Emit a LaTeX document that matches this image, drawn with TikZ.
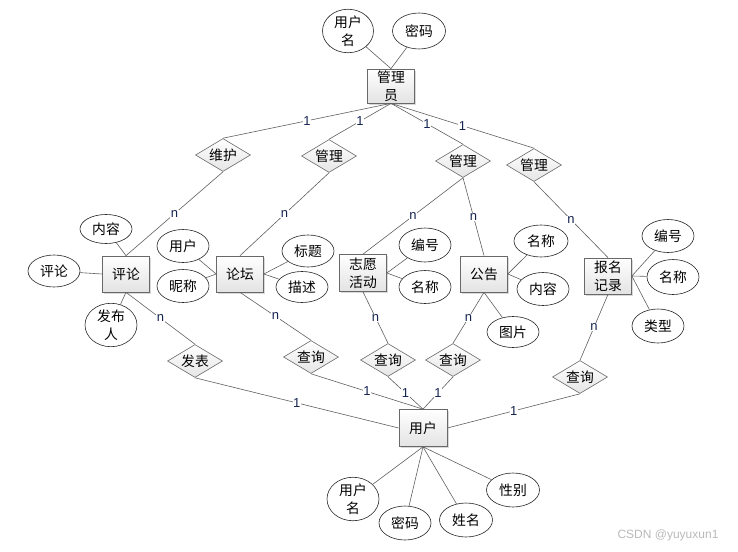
\documentclass[tikz,border=0pt]{standalone}
\usepackage{fontspec}
\setmainfont{Noto Sans CJK SC}
\newfontfamily\lblfont{Liberation Sans}
\usetikzlibrary{shapes.geometric,shadows}
\definecolor{lnc}{RGB}{95,95,95}
\definecolor{lblc}{RGB}{20,35,80}
\definecolor{bdr}{RGB}{105,105,105}
\begin{document}
\begin{tikzpicture}[x=1pt,y=-1pt,font=\fontsize{13.8}{18}\selectfont,
  ent/.style={rectangle,draw=bdr,line width=0.7pt,minimum width=47pt,minimum height=36pt,inner sep=0pt,align=center,
    top color=white,bottom color=gray!22,
    drop shadow={shadow xshift=1.6pt,shadow yshift=-1.6pt,opacity=0.3,fill=gray}},
  rel/.style={diamond,draw=bdr,line width=0.6pt,aspect=1.65,minimum width=55pt,minimum height=33pt,inner sep=0pt,
    top color=white,bottom color=gray!20},
  att/.style={ellipse,draw=black!85,line width=0.6pt,fill=white,minimum width=52pt,minimum height=33pt,inner sep=0pt,align=center},
  lbl/.style={font=\lblfont\fontsize{13}{13}\selectfont,text=lblc,fill=white,inner sep=0.5pt},
  ln/.style={draw=lnc,line width=0.6pt}]
\useasboundingbox (0,0) rectangle (738,551);

% entities
\node[ent,minimum height=34pt] (mgr) at (391,86) {管理\\员};
\node[ent] (e1) at (126,274) {评论};
\node[ent] (e2) at (240,274) {论坛};
\node[ent,minimum height=37pt] (e3) at (363,273) {志愿\\活动};
\node[ent] (e4) at (484,274) {公告};
\node[ent] (e5) at (608,276) {报名\\记录};
\node[ent,minimum width=48pt,minimum height=37pt] (user) at (423,428) {用户};

% relationships
\node[rel] (r1) at (223,155) {维护};
\node[rel] (r2) at (329,156) {管理};
\node[rel] (r3) at (463,161) {管理};
\node[rel] (r4) at (534,165) {管理};
\node[rel] (q1) at (195,361) {发表};
\node[rel] (q2) at (311,357) {查询};
\node[rel] (q3) at (388,360) {查询};
\node[rel] (q4) at (453,360) {查询};
\node[rel] (q5) at (580,377) {查询};

% attributes
\node[att,minimum width=51pt,minimum height=36pt] (mu) at (348,31) {用户\\名};
\node[att,minimum width=53pt,minimum height=36pt] (mp) at (419,31) {密码};
\node[att,minimum height=29pt] (a11) at (106,229) {内容};
\node[att,minimum height=32pt] (a12) at (54,271) {评论};
\node[att,minimum height=35pt] (a13) at (111,325) {发布\\人};
\node[att] (a21) at (183,246) {用户};
\node[att] (a22) at (183,286) {昵称};
\node[att,minimum height=32pt] (a23) at (308,251) {标题};
\node[att,minimum height=31pt] (a24) at (302,287) {描述};
\node[att,minimum height=34pt] (a31) at (425,245) {编号};
\node[att] (a32) at (425,287) {名称};
\node[att,minimum width=54pt,minimum height=32pt] (a41) at (541,241) {名称};
\node[att] (a42) at (543,289) {内容};
\node[att,minimum height=31pt] (a43) at (513,332) {图片};
\node[att,minimum height=33pt] (a51) at (668,236) {编号};
\node[att,minimum height=35pt] (a52) at (673,277) {名称};
\node[att,minimum height=34pt] (a53) at (658,326) {类型};
\node[att,minimum height=35pt] (u1) at (353,499) {用户\\名};
\node[att,minimum height=34pt] (u2) at (405,523) {密码};
\node[att,minimum width=53pt,minimum height=34pt] (u3) at (466,520) {姓名};
\node[att,minimum width=53pt,minimum height=34pt] (u4) at (513,490) {性别};

% attribute lines
\draw[ln] (mu) -- (mgr.north);
\draw[ln] (mp) -- (mgr.north);
\draw[ln] (a11) -- (e1.north);
\draw[ln] (a12) -- (e1.west);
\draw[ln] (a13) -- (e1.south);
\draw[ln] (a21) -- (e2.west);
\draw[ln] (a22) -- (e2.west);
\draw[ln] (a23) -- (e2.east);
\draw[ln] (a24) -- (e2.east);
\draw[ln] (a31) -- (e3.east);
\draw[ln] (a32) -- (e3.east);
\draw[ln] (a41) -- (e4.east);
\draw[ln] (a42) -- (e4.east);
\draw[ln] (a43) -- (e4.south);
\draw[ln] (a51) -- (e5.east);
\draw[ln] (a52) -- (e5.east);
\draw[ln] (a53) -- (e5.east);
\draw[ln] (u1) -- (user.south);
\draw[ln] (u2) -- (user.south);
\draw[ln] (u3) -- (user.south);
\draw[ln] (u4) -- (user.south);

% relationship lines
\draw[ln] (mgr.south) -- node[lbl] {1} (r1.north);
\draw[ln] (mgr.south) -- node[lbl] {1} (r2.north);
\draw[ln] (mgr.south) -- node[lbl] {1} (r3.north);
\draw[ln] (mgr.south) -- node[lbl] {1} (r4.north);
\draw[ln] (r1.south) -- node[lbl] {n} (e1.north);
\draw[ln] (r2.south) -- node[lbl] {n} (e2.north);
\draw[ln] (r3.south) -- node[lbl] {n} (e3.north);
\draw[ln] (r3.south) -- node[lbl] {n} (e4.north);
\draw[ln] (r4.south) -- node[lbl] {n} (e5.north);
\draw[ln] (e1.south) -- node[lbl] {n} (q1.north);
\draw[ln] (e2.south) -- node[lbl] {n} (q2.north);
\draw[ln] (e3.south) -- node[lbl] {n} (q3.north);
\draw[ln] (e4.south) -- node[lbl] {n} (q4.north);
\draw[ln] (e5.south) -- node[lbl] {n} (q5.north);
\draw[ln] (q1.south) -- node[lbl] {1} (user.west);
\draw[ln] (q2.south) -- node[lbl] {1} (user.north);
\draw[ln] (q3.south) -- node[lbl] {1} (user.north);
\draw[ln] (q4.south) -- node[lbl] {1} (user.north);
\draw[ln] (q5.south) -- node[lbl] {1} (user.east);

\node[font=\lblfont\fontsize{12}{12}\selectfont,text=gray!55] (wm) at (668,535) {CSDN @yuyuxun1};
\end{tikzpicture}
\end{document}
